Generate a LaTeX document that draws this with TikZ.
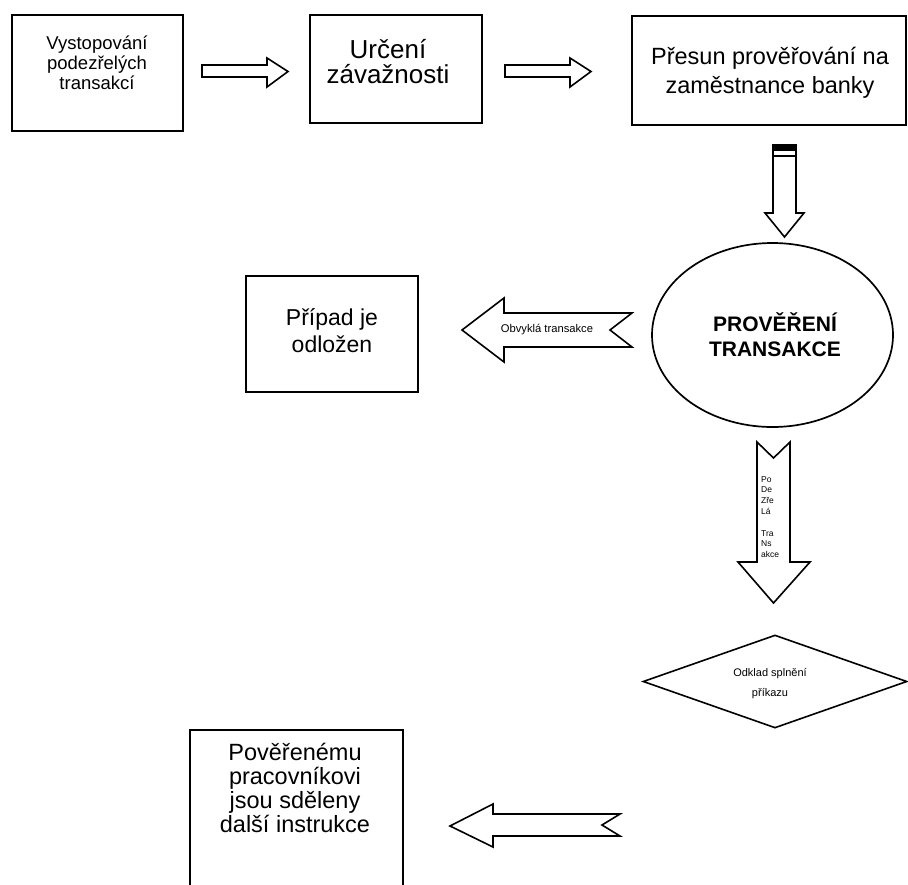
\documentclass[tikz,border=0pt]{standalone}
\usepackage{fontspec}
\setmainfont{Liberation Sans}
\usetikzlibrary{shapes.geometric}
\begin{document}
\begin{tikzpicture}[x=1pt,y=-1pt,
  box/.style={draw,line width=1.7pt,inner sep=0pt},
  txt/.style={align=center,inner sep=0pt},
  blk/.style={draw,line width=1.6pt,line join=miter,miter limit=20,fill=white}]
\useasboundingbox (0,0) rectangle (908,884);

% top row boxes
\node[box,minimum width=171pt,minimum height=116pt] (b1) at (97.5,73) {};
\node[txt,font=\fontsize{18.5}{20}\selectfont] (t1) at (97,63) {Vystopování\\podezřelých\\transakcí};

\node[box,minimum width=172pt,minimum height=108pt] (b2) at (396,69) {};
\node[txt,font=\fontsize{26}{25}\selectfont] (t2) at (388,62) {Určení\\závažnosti};

\node[box,minimum width=274pt,minimum height=109pt] (b3) at (769,70.5) {};
\node[txt,font=\fontsize{23.5}{29}\selectfont] (t3) at (770,73) {Přesun prověřování na\\zaměstnance banky};

% right-pointing block arrows
\draw[blk] (202,65) -- (267,65) -- (267,58) -- (288,71.5) -- (267,87) -- (267,77) -- (202,77) -- cycle;
\draw[blk] (505,65) -- (570,65) -- (570,58) -- (591,71.5) -- (570,87) -- (570,77) -- (505,77) -- cycle;

% down arrow from box 3
\draw[blk] (773,145) -- (796,145) -- (796,213) -- (804,213) -- (784.5,237) -- (765,213) -- (773,213) -- cycle;
\fill (773,145) rectangle (796,151);
\draw[line width=1.5pt] (773,156) -- (796,156);

% ellipse
\node[draw,ellipse,line width=1.7pt,minimum width=241pt,minimum height=184pt,inner sep=0pt] (e) at (772.5,335) {};
\node[txt,font=\bfseries\fontsize{21}{25}\selectfont] (te) at (775,334.5) {PROVĚŘENÍ\\TRANSAKCE};

% left arrow "Obvyklá transakce"
\draw[blk] (462,330) -- (504,298) -- (504,313) -- (632,313) -- (610,330) -- (632,347) -- (504,347) -- (504,362) -- cycle;
\node[txt,font=\fontsize{11.2}{12}\selectfont] (ta) at (547,330) {Obvyklá transakce};

% box Případ je odložen
\node[box,minimum width=172pt,minimum height=116pt] (b4) at (332,334) {};
\node[txt,font=\fontsize{23}{27}\selectfont] (t4) at (332,331) {Případ je\\odložen};

% down arrow with stacked text
\draw[blk] (757,442) -- (773.5,458) -- (790,442) -- (790,562) -- (810,562) -- (773.5,603) -- (738,562) -- (757,562) -- cycle;
\node[anchor=north west,align=left,inner sep=0pt,font=\fontsize{8.5}{10.8}\selectfont] (ts) at (761,476) {Po\\De\\Zře\\Lá\\[10.8pt]Tra\\Ns\\akce};

% diamond
\node[draw,diamond,line width=1.6pt,minimum width=264pt,minimum height=93pt,inner sep=0pt] (d) at (775,681.5) {};
\node[txt,font=\fontsize{11}{20}\selectfont] (td) at (770,684) {Odklad splnění\\příkazu};

% bottom left arrow
\draw[blk] (450,826) -- (493,804) -- (493,814) -- (620,814) -- (602,825) -- (620,836) -- (493,836) -- (493,847) -- cycle;

% bottom box (cut off by page edge)
\coordinate (b5bl) at (190,886);
\coordinate (b5tl) at (190,730);
\coordinate (b5tr) at (403,730);
\coordinate (b5br) at (403,886);
\draw[line width=1.7pt] (b5bl) -- (b5tl) -- (b5tr) -- (b5br);
\node[txt,font=\fontsize{23.5}{24}\selectfont] (t5) at (295,788) {Pověřenému\\pracovníkovi\\jsou sděleny\\další instrukce};
\end{tikzpicture}
\end{document}
